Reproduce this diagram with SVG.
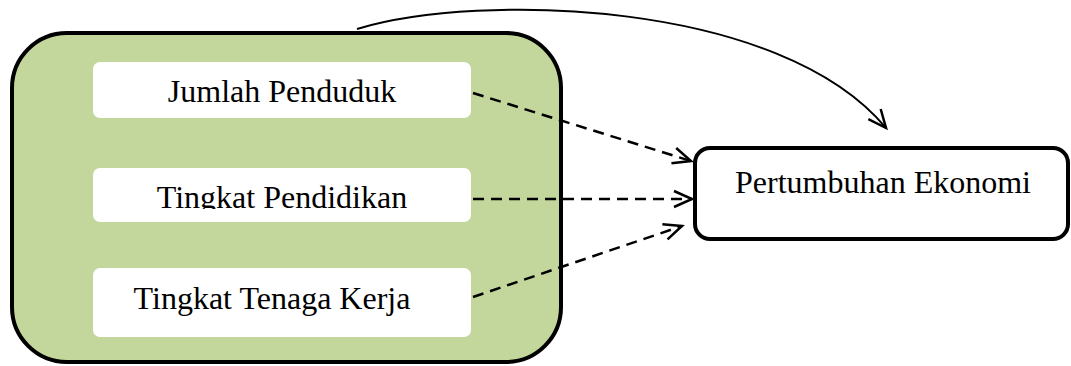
<svg xmlns="http://www.w3.org/2000/svg" width="1071" height="366" viewBox="0 0 1071 366">
<style>
.t{font-family:"Liberation Serif","Times New Roman",serif;font-size:32px;fill:#000}
.inner{fill:#fff;stroke:none}
.dash{fill:none;stroke:#000;stroke-width:2.5;stroke-dasharray:11 7}
</style>
<defs>
<marker id="arr" markerUnits="userSpaceOnUse" markerWidth="30" markerHeight="30" refX="20" refY="10" orient="auto" viewBox="0 0 30 20">
<path d="M2,2 L20,10 L2,18" fill="none" stroke="#000" stroke-width="2.5"/>
</marker>
<clipPath id="clipP"><rect x="93" y="160" width="380" height="49"/></clipPath>
</defs>
<g id="group-box">
<rect x="12" y="33" width="549" height="329" rx="55" ry="55" fill="#C3D69B" stroke="#000" stroke-width="4"/>
</g>
<g id="node-jumlah">
<rect class="inner" x="93" y="62" width="378" height="56" rx="7"/>
<text class="t" x="282" y="102" text-anchor="middle">Jumlah Penduduk</text>
</g>
<g id="node-pendidikan">
<rect class="inner" x="93" y="168" width="378" height="54" rx="7"/>
<text class="t" x="282" y="208" text-anchor="middle" clip-path="url(#clipP)">Tingkat Pendidikan</text>
</g>
<g id="node-tenaga">
<rect class="inner" x="93" y="268" width="378" height="69" rx="7"/>
<text class="t" x="272" y="309" text-anchor="middle">Tingkat Tenaga Kerja</text>
</g>
<g id="node-pertumbuhan">
<rect x="695" y="148" width="373" height="91" rx="15" ry="15" fill="#fff" stroke="#000" stroke-width="4"/>
<text class="t" x="883" y="193" text-anchor="middle">Pertumbuhan Ekonomi</text>
</g>
<g id="connectors">
<path class="dash" d="M473,93 L691,161" marker-end="url(#arr)"/>
<path class="dash" d="M473,199 L692,199" marker-end="url(#arr)"/>
<path class="dash" d="M473,297 L682,226" marker-end="url(#arr)"/>
<path d="M357,29 C480,-8 780,0 886,128" fill="none" stroke="#000" stroke-width="2" marker-end="url(#arr)"/>
</g>
</svg>
